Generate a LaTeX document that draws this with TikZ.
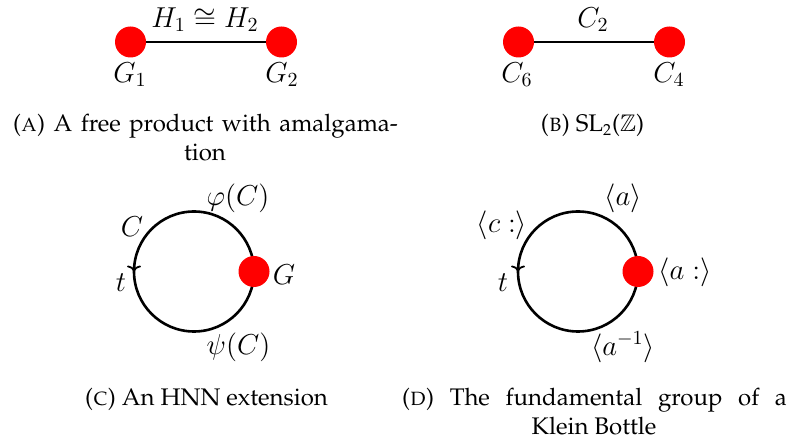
\documentclass[tikz,border=0pt]{standalone}
\usepackage{amssymb}
\usetikzlibrary{decorations.markings,arrows.meta}
\tikzset{
  vert/.style={circle,fill=red,minimum size=15.5pt,inner sep=0pt},
  lab/.style={font=\fontsize{14.4}{17}\selectfont,inner sep=0pt},
  capt/.style={font=\fontencoding{T1}\fontfamily{ppl}\fontsize{12}{14.5}\selectfont,anchor=base,inner sep=0pt},
  edge/.style={line width=1.3pt},
  loopc/.style={edge,postaction={decorate},decoration={markings,mark=at position 0.5 with {\arrow[line width=0.9pt]{To[length=3pt,width=7pt]}}}},
}
\begin{document}
\begin{tikzpicture}[x=0.5pt,y=-0.5pt]
\useasboundingbox (0,0) rectangle (791,442);
% Panel A
\node[vert] (g1) at (130.5,42) {};
\node[vert] (g2) at (281.5,42) {};
\draw[edge] (g1) -- (g2);
\node[lab] (hh) at (205,20) {$H_1\cong H_2$};
\node[lab] (g1l) at (130,75) {$G_1$};
\node[lab] (g2l) at (282,75) {$G_2$};
% Panel B
\node[vert] (c6) at (518.5,42) {};
\node[vert] (c4) at (669.5,42) {};
\draw[edge] (c6) -- (c4);
\node[lab] (c2l) at (593,20) {$C_2$};
\node[lab] (c6l) at (517,75) {$C_6$};
\node[lab] (c4l) at (669,75) {$C_4$};
% Captions top
\node[capt] (capA1) at (205.5,132) {\makebox[192.5pt][s]{(\textsc{a}) A free product with amalgama-}};
\node[capt] (capA2) at (205,161) {tion};
\node[capt] (capB) at (592.5,132) {(\textsc{b}) SL\textsubscript{2}($\mathbb{Z}$)};
% Panel C
\coordinate (cc) at (194,271.5);
\draw[loopc] (cc) circle (30pt);
\node[vert] (gn) at (254,271.5) {};
\node[lab] (phil) at (238,198) {$\varphi(C)$};
\node[lab] (cl) at (132,227) {$C$};
\node[lab] (tl) at (121,283) {$t$};
\node[lab] (psil) at (238.5,347) {$\psi(C)$};
\node[lab] (gl) at (284,275) {$G$};
% Panel D
\coordinate (cd) at (578,271.5);
\draw[loopc] (cd) circle (30pt);
\node[vert] (an) at (638,271.5) {};
\node[lab] (al) at (623,198) {$\langle a\rangle$};
\node[lab] (cll) at (502,225) {$\langle c:\rangle$};
\node[lab] (tl2) at (503,283) {$t$};
\node[lab] (ainvl) at (623,347) {$\langle a^{-1}\rangle$};
\node[lab] (acl) at (685,272) {$\langle a:\rangle$};
% Captions bottom
\node[capt] (capC) at (206.5,406) {(\textsc{c}) An HNN extension};
\node[capt] (capD1) at (594.5,406) {\makebox[192.5pt][s]{(\textsc{d}) The fundamental group of a}};
\node[capt] (capD2) at (594,435) {Klein Bottle};
\end{tikzpicture}
\end{document}
